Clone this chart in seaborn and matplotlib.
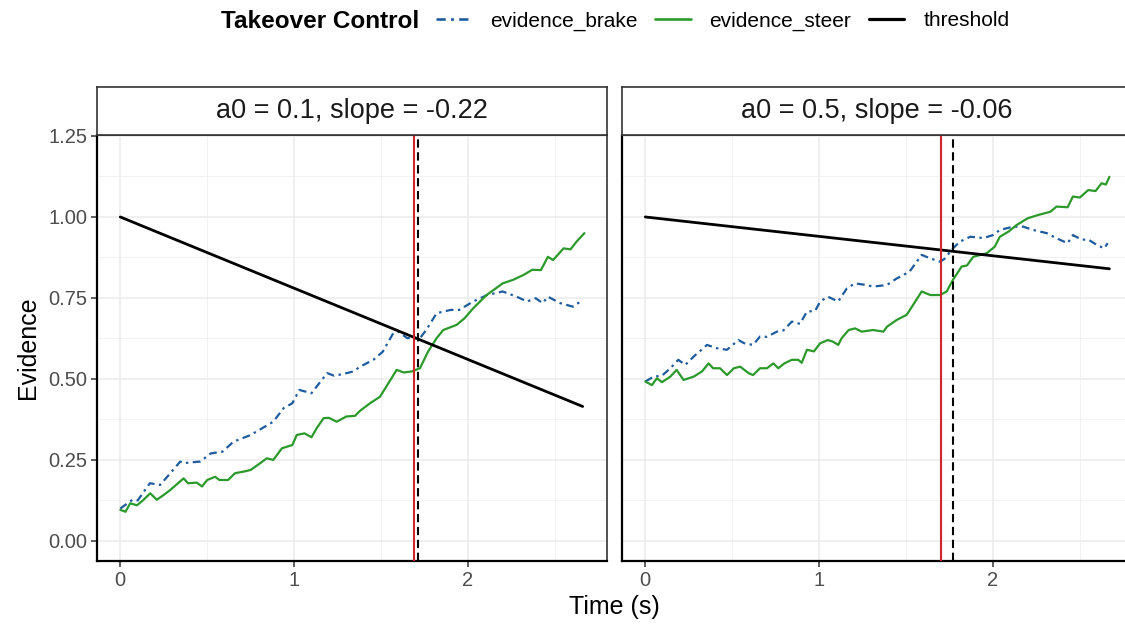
import numpy as np
import pandas as pd
import seaborn as sns
import matplotlib
matplotlib.use("Agg")
import matplotlib.pyplot as plt
from matplotlib.lines import Line2D
from matplotlib.ticker import MultipleLocator, FuncFormatter

# ---------------- data ----------------
facet_labels = ["a0 = 0.1, slope = -0.22", "a0 = 0.5, slope = -0.06"]
series_names = ["evidence_brake", "evidence_steer", "threshold"]

# facet 1 : a0 = 0.1, slope = -0.22
f1_brake_t = [0.00, 0.07, 0.10, 0.17, 0.23, 0.345, 0.36, 0.46, 0.52, 0.59, 0.65, 0.75, 0.88, 0.94,
              0.99, 1.03, 1.10, 1.19, 1.23, 1.28, 1.34, 1.38, 1.456, 1.51, 1.57, 1.60, 1.65, 1.724,
              1.76, 1.82, 1.90, 1.95, 2.03, 2.11, 2.20, 2.28, 2.34, 2.39, 2.43, 2.46, 2.53, 2.605, 2.66]
f1_brake_v = [0.100, 0.127, 0.125, 0.178, 0.173, 0.245, 0.240, 0.245, 0.270, 0.276, 0.306, 0.327, 0.368, 0.410,
              0.425, 0.466, 0.456, 0.518, 0.510, 0.515, 0.523, 0.538, 0.559, 0.584, 0.641, 0.646, 0.626, 0.626,
              0.651, 0.703, 0.713, 0.713, 0.739, 0.759, 0.770, 0.754, 0.739, 0.749, 0.734, 0.754, 0.734, 0.723, 0.744]

f1_steer_t = [0.00, 0.03, 0.057, 0.096, 0.134, 0.172, 0.21, 0.25, 0.287, 0.364, 0.39, 0.44, 0.47, 0.50,
              0.546, 0.57, 0.62, 0.66, 0.71, 0.75, 0.805, 0.843, 0.88, 0.93, 0.99, 1.015, 1.06, 1.10,
              1.13, 1.17, 1.20, 1.245, 1.30, 1.35, 1.38, 1.437, 1.494, 1.53, 1.59, 1.63, 1.676, 1.724,
              1.77, 1.82, 1.858, 1.935, 1.98, 2.03, 2.107, 2.20, 2.26, 2.32, 2.37, 2.42, 2.46, 2.49,
              2.55, 2.59, 2.625, 2.67]
f1_steer_v = [0.096, 0.090, 0.116, 0.110, 0.127, 0.147, 0.127, 0.142, 0.157, 0.193, 0.178, 0.180, 0.168, 0.188,
              0.198, 0.188, 0.188, 0.209, 0.214, 0.219, 0.240, 0.255, 0.250, 0.286, 0.296, 0.327, 0.332, 0.320,
              0.348, 0.379, 0.380, 0.368, 0.384, 0.386, 0.402, 0.425, 0.445, 0.476, 0.528, 0.520, 0.523, 0.533,
              0.584, 0.626, 0.651, 0.667, 0.687, 0.718, 0.759, 0.795, 0.806, 0.821, 0.837, 0.836, 0.877, 0.867,
              0.903, 0.900, 0.924, 0.950]

f1_thr_t = [0.00, 2.66]
f1_thr_v = [1.00, 0.415]

# facet 2 : a0 = 0.5, slope = -0.06
f2_brake_t = [0.00, 0.048, 0.096, 0.144, 0.19, 0.23, 0.278, 0.355, 0.41, 0.47, 0.536, 0.57, 0.62, 0.66,
              0.70, 0.757, 0.795, 0.843, 0.89, 0.93, 0.977, 1.006, 1.05, 1.11, 1.16, 1.207, 1.27, 1.31,
              1.39, 1.446, 1.52, 1.59, 1.64, 1.695, 1.72, 1.77, 1.81, 1.87, 1.945, 2.00, 2.04, 2.117,
              2.175, 2.23, 2.31, 2.366, 2.43, 2.46, 2.51, 2.55, 2.596, 2.64, 2.66]
f2_brake_v = [0.492, 0.507, 0.510, 0.533, 0.559, 0.543, 0.569, 0.605, 0.595, 0.590, 0.620, 0.610, 0.605, 0.631,
              0.630, 0.646, 0.650, 0.677, 0.670, 0.708, 0.710, 0.739, 0.754, 0.739, 0.780, 0.795, 0.790, 0.785,
              0.790, 0.810, 0.831, 0.883, 0.872, 0.862, 0.870, 0.903, 0.924, 0.939, 0.935, 0.944, 0.960, 0.970,
              0.970, 0.960, 0.950, 0.934, 0.919, 0.944, 0.930, 0.930, 0.914, 0.903, 0.919]

f2_steer_t = [0.00, 0.038, 0.067, 0.096, 0.144, 0.18, 0.22, 0.278, 0.326, 0.364, 0.39, 0.43, 0.47, 0.51,
              0.546, 0.594, 0.62, 0.66, 0.70, 0.737, 0.765, 0.80, 0.843, 0.88, 0.90, 0.93, 0.97, 1.006,
              1.05, 1.08, 1.11, 1.13, 1.17, 1.207, 1.245, 1.31, 1.37, 1.39, 1.446, 1.504, 1.54, 1.59,
              1.64, 1.695, 1.734, 1.77, 1.82, 1.85, 1.887, 1.964, 2.01, 2.04, 2.09, 2.136, 2.20, 2.26,
              2.33, 2.366, 2.43, 2.46, 2.50, 2.548, 2.59, 2.625, 2.65, 2.67]
f2_steer_v = [0.492, 0.481, 0.502, 0.490, 0.507, 0.528, 0.497, 0.507, 0.523, 0.548, 0.533, 0.533, 0.512, 0.533,
              0.538, 0.518, 0.512, 0.533, 0.533, 0.548, 0.533, 0.548, 0.559, 0.559, 0.550, 0.590, 0.585, 0.610,
              0.620, 0.615, 0.605, 0.626, 0.651, 0.656, 0.646, 0.651, 0.646, 0.661, 0.682, 0.698, 0.728, 0.770,
              0.759, 0.759, 0.770, 0.806, 0.847, 0.850, 0.877, 0.888, 0.908, 0.939, 0.955, 0.975, 0.996, 1.006,
              1.016, 1.032, 1.030, 1.063, 1.060, 1.083, 1.080, 1.104, 1.100, 1.124]

f2_thr_t = [0.00, 2.67]
f2_thr_v = [1.00, 0.84]

# vertical reference lines per facet
red_line_x = [1.69, 1.70]
dashed_line_x = [1.71, 1.77]

# ---------------- build long data ----------------
def long_df(facet, pairs):
    frames = []
    for name, (t, v) in zip(series_names, pairs):
        frames.append(pd.DataFrame({"time": t, "value": v, "series": name, "facet": facet}))
    return pd.concat(frames, ignore_index=True)

df = pd.concat([
    long_df(facet_labels[0], [(f1_brake_t, f1_brake_v), (f1_steer_t, f1_steer_v), (f1_thr_t, f1_thr_v)]),
    long_df(facet_labels[1], [(f2_brake_t, f2_brake_v), (f2_steer_t, f2_steer_v), (f2_thr_t, f2_thr_v)]),
], ignore_index=True)

# ---------------- style ----------------
sns.set_theme(style="white")
plt.rcParams["font.family"] = ["Liberation Sans", "DejaVu Sans"]
plt.rcParams["text.color"] = "black"

palette = {"evidence_brake": "#1f5c9e", "evidence_steer": "#2b9a2b", "threshold": "#000000"}
dashes = {"evidence_brake": (3.5, 2.0, 1.1, 2.0), "evidence_steer": "", "threshold": ""}
sizes = {"evidence_brake": 1.6, "evidence_steer": 1.6, "threshold": 2.0}

W, H = 1125, 629
fig = plt.figure(figsize=(W / 100, H / 100), dpi=100)

def fx(px):
    return px / W

def fy(py):
    return 1 - py / H

panel_left = [97, 622]
panel_w = 510
panel_top, panel_bot = 135, 561
strip_top = 87

tick_color = "#4d4d4d"
for i, facet in enumerate(facet_labels):
    x0 = panel_left[i]
    ax = fig.add_axes([fx(x0), fy(panel_bot), fx(panel_w), fy(panel_top) - fy(panel_bot)])
    sub = df[df["facet"] == facet]
    sns.lineplot(data=sub, x="time", y="value", hue="series", style="series", size="series",
                 palette=palette, dashes=dashes, sizes=sizes, estimator=None, sort=False,
                 legend=False, ax=ax, zorder=3)
    ax.axvline(red_line_x[i], color="#d0262a", lw=1.5, zorder=4)
    ax.axvline(dashed_line_x[i], color="#000000", lw=1.5, ls=(0, (4, 2.2)), zorder=4)

    ax.set_xlim(-0.134, 2.80)
    ax.set_ylim(-0.062, 1.253)
    ax.xaxis.set_major_locator(MultipleLocator(1))
    ax.xaxis.set_minor_locator(MultipleLocator(0.5))
    ax.yaxis.set_major_locator(MultipleLocator(0.25))
    ax.yaxis.set_minor_locator(MultipleLocator(0.125))
    ax.grid(True, which="major", color="#ebebeb", lw=1.1, zorder=0)
    ax.grid(True, which="minor", color="#f0f0f0", lw=0.6, zorder=0)
    ax.set_axisbelow(True)
    ax.set_xlabel("")
    ax.set_ylabel("")
    ax.tick_params(axis="both", which="major", length=4, width=1.1, color="#333333",
                   labelsize=14.5, labelcolor=tick_color, pad=3, bottom=True, left=(i == 0))
    ax.tick_params(axis="both", which="minor", length=0)
    ax.xaxis.set_major_formatter(FuncFormatter(lambda v, p: f"{v:.0f}"))
    if i == 0:
        ax.yaxis.set_major_formatter(FuncFormatter(lambda v, p: f"{v:.2f}"))
    else:
        ax.tick_params(axis="y", labelleft=False, left=False)
    for side in ["left", "bottom"]:
        ax.spines[side].set_color("#000000")
        ax.spines[side].set_linewidth(1.6)
    for side in ["top", "right"]:
        ax.spines[side].set_color("#333333")
        ax.spines[side].set_linewidth(1.2)
    ax.patch.set_facecolor("white")

    # strip
    sax = fig.add_axes([fx(x0), fy(panel_top), fx(panel_w), fy(strip_top) - fy(panel_top)])
    sax.set_xticks([])
    sax.set_yticks([])
    sax.patch.set_facecolor("white")
    for s in sax.spines.values():
        s.set_color("#333333")
        s.set_linewidth(1.2)
    sax.text(0.5, 0.5, facet, ha="center", va="center", fontsize=19.5, color="#1a1a1a",
             transform=sax.transAxes)

fig.text(fx(28), fy(348), "Evidence", rotation=90, ha="center", va="center", fontsize=18, color="black")
fig.text(fx(614), fy(607), "Time (s)", ha="center", va="center", fontsize=18, color="black")

# legend
fig.text(fx(221), fy(21), "Takeover Control", ha="left", va="center", fontsize=17.5,
         fontweight="bold", color="black")
handles = [Line2D([], [], color=palette[n], lw=sizes[n] + 0.3,
                  ls=(0, dashes[n]) if dashes[n] else "-") for n in series_names]
leg = fig.legend(handles, series_names, loc="center left", bbox_to_anchor=(fx(436), fy(21)), ncol=3,
                 frameon=False, fontsize=15, handlelength=1.7, handletextpad=0.9, columnspacing=0.85,
                 borderpad=0, borderaxespad=0)
for t in leg.get_texts():
    t.set_color("black")

fig.savefig("out.png", dpi=100, facecolor="white")
